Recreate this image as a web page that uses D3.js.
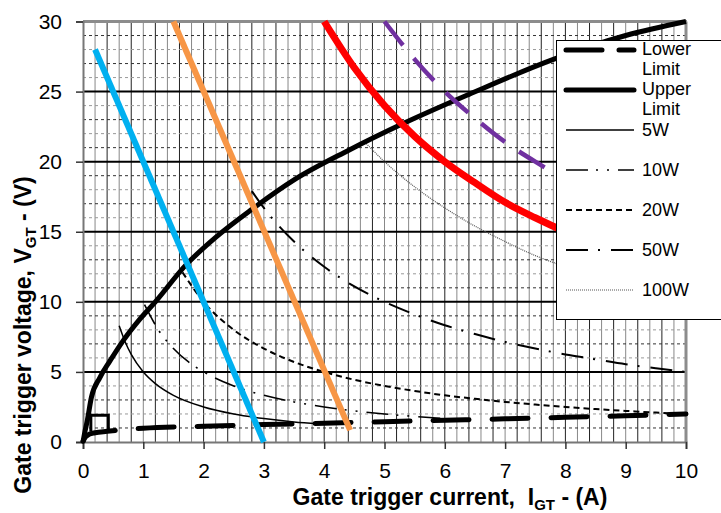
<!DOCTYPE html>
<html>
<head>
<meta charset="utf-8">
<script src="https://cdn.jsdelivr.net/npm/d3@7"></script>
<style>
  body { margin: 0; background: #fff; }
  svg { font-family: Arial, "Liberation Sans", sans-serif; }
</style>
</head>
<body>
<svg></svg>
<script>
// 刻度
var xTicks = [0, 1, 2, 3, 4, 5, 6, 7, 8, 9, 10];
var yTicks = [0, 5, 10, 15, 20, 25, 30];

// 曲线数据 [I, V]
var lowerLimit = [[0,0.05],[0.04,0.35],[0.1,0.55],[0.2,0.66],[0.4,0.76],[0.6,0.85],[1,0.98],[2,1.12],[3,1.24],[4,1.34],[5,1.45],[6,1.55],[7,1.65],[8,1.76],[9,1.87],[10,2.0]];
var upperLimit = [[0,0],[0.03,0.7],[0.07,1.5],[0.14,3.2],[0.28,4.6],[0.45,5.8],[0.67,7.25],[0.95,8.8],[1.2,10],[1.7,12.6],[2.2,14.6],[2.8,16.6],[3.5,18.7],[4.4,20.8],[5.3,22.7],[6.4,24.8],[7.8,27.3],[9,29],[10,30]];
var nonTrigBox = [[0.13,0.75],[0.13,1.9],[0.42,1.9],[0.42,0.82]];
var p5w = [[0.6,8.3],[0.7,7.14],[0.8,6.25],[1,5],[1.2,4.17],[1.5,3.33],[2,2.5],[2.5,2],[3,1.67],[3.5,1.43],[3.9,1.3]];
var p10w = [[1.02,9.8],[1.25,8],[1.5,6.67],[1.75,5.71],[2,5],[2.5,4],[3,3.33],[3.5,2.86],[4,2.5],[4.5,2.22],[5,2],[5.5,1.82],[6,1.67],[6.3,1.59]];
var p20w = [[1.65,12.1],[2,10],[2.5,8],[3,6.67],[3.5,5.71],[4,5],[4.5,4.44],[5,4],[5.5,3.64],[6,3.33],[6.5,3.08],[7,2.86],[7.5,2.67],[8,2.5],[8.5,2.35],[9,2.22],[9.5,2.1],[9.8,2.04]];
var p50w = [[2.8,17.9],[3,16.7],[3.5,14.3],[4,12.5],[4.5,11.1],[5,10],[5.5,9.1],[6,8.33],[6.5,7.7],[7,7.14],[7.5,6.67],[8,6.25],[8.5,5.9],[9,5.55],[9.5,5.26],[10,5]];
var p100w = [[4.65,21.5],[5,20],[5.5,18.2],[6,16.7],[6.5,15.4],[7,14.3],[7.5,13.3],[8,12.5],[9,11.1],[10,10]];
var p120w = [[4,30],[4.5,26.7],[5,24],[5.5,21.8],[6,20],[6.5,18.5],[7,17.1],[7.5,16],[8,15],[9,13.3],[10,12]];
var p150w = [[5,30],[5.5,27.3],[6,25],[6.5,23.1],[7,21.4],[7.5,20],[8,18.75],[9,16.7],[10,15]];
var blueLine = [[0.2,28],[3.0,0]];
var orangeLine = [[1.5,30],[4.43,0.85]];

var legendLabels = [["Lower","Limit"],["Upper","Limit"],["5W"],["10W"],["20W"],["50W"],["100W"]];

var svg = d3.select('svg')
  .attr('width', 721)
  .attr('height', 513);

// 比例尺
var x = d3.scaleLinear().domain([0, 10]).range([83, 686]);
var y = d3.scaleLinear().domain([0, 30]).range([442, 21.5]);

// 网格 - 竖线 每0.2
var vgrid = d3.range(1, 50).map(function(k) { return k / 5; });
svg.append('g').selectAll('line')
  .data(vgrid)
  .enter().append('line')
  .attr('x1', function(d) { return x(d); })
  .attr('x2', function(d) { return x(d); })
  .attr('y1', y(30))
  .attr('y2', y(0))
  .attr('stroke', function(d, i) { return i % 2 ? '#222' : '#888'; })
  .attr('stroke-width', 1);

// 网格 - 横线
var hgrid = d3.range(1, 30).filter(function(d) { return d % 5 != 0; });
svg.append('g').selectAll('line')
  .data(hgrid)
  .enter().append('line')
  .attr('x1', x(0))
  .attr('x2', x(10))
  .attr('y1', function(d) { return y(d); })
  .attr('y2', function(d) { return y(d); })
  .attr('stroke', function(d) { return d % 2 ? '#333' : '#999'; })
  .attr('stroke-dasharray', '3,3')
  .attr('stroke-width', 1);

svg.append('g').selectAll('line')
  .data(yTicks.filter(function(d) { return d > 0 && d < 30; }))
  .enter().append('line')
  .attr('x1', x(0))
  .attr('x2', x(10))
  .attr('y1', function(d) { return y(d); })
  .attr('y2', function(d) { return y(d); })
  .attr('stroke', '#000')
  .attr('stroke-width', 2);

// 外框
svg.append('line')
  .attr('x1', x(0)).attr('x2', x(10) + 1)
  .attr('y1', y(30)).attr('y2', y(30))
  .attr('stroke', '#8c8c8c').attr('stroke-width', 3);
svg.append('line')
  .attr('x1', x(10)).attr('x2', x(10))
  .attr('y1', y(30)).attr('y2', y(0))
  .attr('stroke', '#8c8c8c').attr('stroke-width', 3);

// 坐标轴
var xAxis = d3.axisBottom(x).tickValues(xTicks).tickSize(7).tickPadding(14);
var yAxis = d3.axisLeft(y).tickValues(yTicks).tickSize(7).tickPadding(14);

var gx = svg.append('g')
  .attr('transform', 'translate(0,' + y(0) + ')')
  .call(xAxis);
var gy = svg.append('g')
  .attr('transform', 'translate(' + x(0) + ',0)')
  .call(yAxis);

[gx, gy].forEach(function(g) {
  g.select('.domain').attr('stroke', '#777').attr('stroke-width', 2);
  g.selectAll('.tick line').attr('stroke', '#333').attr('stroke-width', 1.5);
  g.selectAll('.tick text')
    .attr('fill', '#000')
    .style('font-size', '21px')
    .style('font-family', 'Arial, "Liberation Sans", sans-serif');
});

// 曲线
var line = d3.line()
  .x(function(d) { return x(d[0]); })
  .y(function(d) { return y(d[1]); })
  .curve(d3.curveMonotoneX);
var straight = d3.line()
  .x(function(d) { return x(d[0]); })
  .y(function(d) { return y(d[1]); });

function draw(data, gen, color, width, dash, cap) {
  return svg.append('path')
    .datum(data)
    .attr('d', gen)
    .attr('fill', 'none')
    .attr('stroke', color)
    .attr('stroke-width', width)
    .attr('stroke-dasharray', dash || null)
    .attr('stroke-linecap', cap || 'butt');
}

draw(nonTrigBox, straight, '#000', 3);
draw(p5w, line, '#000', 1.5);
draw(p10w, line, '#000', 1.6, '22,8,2,9,2,9');
draw(p20w, line, '#000', 2, '6,4');
draw(p50w, line, '#000', 2, '22,10,2,11');
draw(p100w, line, '#555', 1.2, '1,1');
draw(lowerLimit, line, '#000', 5, '36,23', 'round');
draw(upperLimit, line, '#000', 5);
draw(blueLine, straight, '#00b0f0', 6);
draw(orangeLine, straight, '#f79646', 6);
draw(p120w, line, '#ff0000', 7);
draw(p150w, line, '#7030a0', 4.5, '30,17');

// 图例
svg.append('rect')
  .attr('x', 556.5)
  .attr('y', 40.5)
  .attr('width', 200)
  .attr('height', 279)
  .attr('fill', '#fff')
  .attr('stroke', '#000')
  .attr('stroke-width', 1);

var legendStyle = [
  {w: 5, dash: '36,17', cap: 'round', color: '#000'},
  {w: 5, dash: null, cap: 'round', color: '#000'},
  {w: 1.5, dash: null, cap: 'butt', color: '#000'},
  {w: 1.6, dash: '22,8,2,9,2,9', cap: 'butt', color: '#000'},
  {w: 2, dash: '6,4', cap: 'butt', color: '#000'},
  {w: 2, dash: '22,10,2,11', cap: 'butt', color: '#000'},
  {w: 1.2, dash: '1,1', cap: 'butt', color: '#555'}
];

legendLabels.forEach(function(lab, i) {
  var ly = 50 + i * 40;
  var st = legendStyle[i];
  svg.append('line')
    .attr('x1', 566).attr('x2', 634)
    .attr('y1', ly).attr('y2', ly)
    .attr('stroke', st.color)
    .attr('stroke-width', st.w)
    .attr('stroke-dasharray', st.dash)
    .attr('stroke-linecap', st.cap);
  lab.forEach(function(t, j) {
    svg.append('text')
      .attr('x', 642)
      .attr('y', (lab.length > 1 ? ly - 1 : ly) + j * 20)
      .attr('dy', '.35em')
      .style('font-size', '18px')
      .text(t);
  });
});

// 轴标题
var xt = svg.append('text')
  .attr('x', 450)
  .attr('y', 505)
  .style('text-anchor', 'middle')
  .style('font-size', '23px')
  .style('font-weight', 'bold')
  .style('white-space', 'pre');
xt.append('tspan').text('Gate trigger current,  I');
xt.append('tspan').attr('dy', 5).style('font-size', '15px').text('GT');
xt.append('tspan').attr('dy', -5).text(' - (A)');

var yt = svg.append('text')
  .attr('transform', 'translate(31,335) rotate(-90)')
  .style('text-anchor', 'middle')
  .style('font-size', '23px')
  .style('font-weight', 'bold')
  .style('white-space', 'pre');
yt.append('tspan').text('Gate trigger voltage, V');
yt.append('tspan').attr('dy', 5).style('font-size', '15px').text('GT');
yt.append('tspan').attr('dy', -5).text(' - (V)');
</script>
</body>
</html>
